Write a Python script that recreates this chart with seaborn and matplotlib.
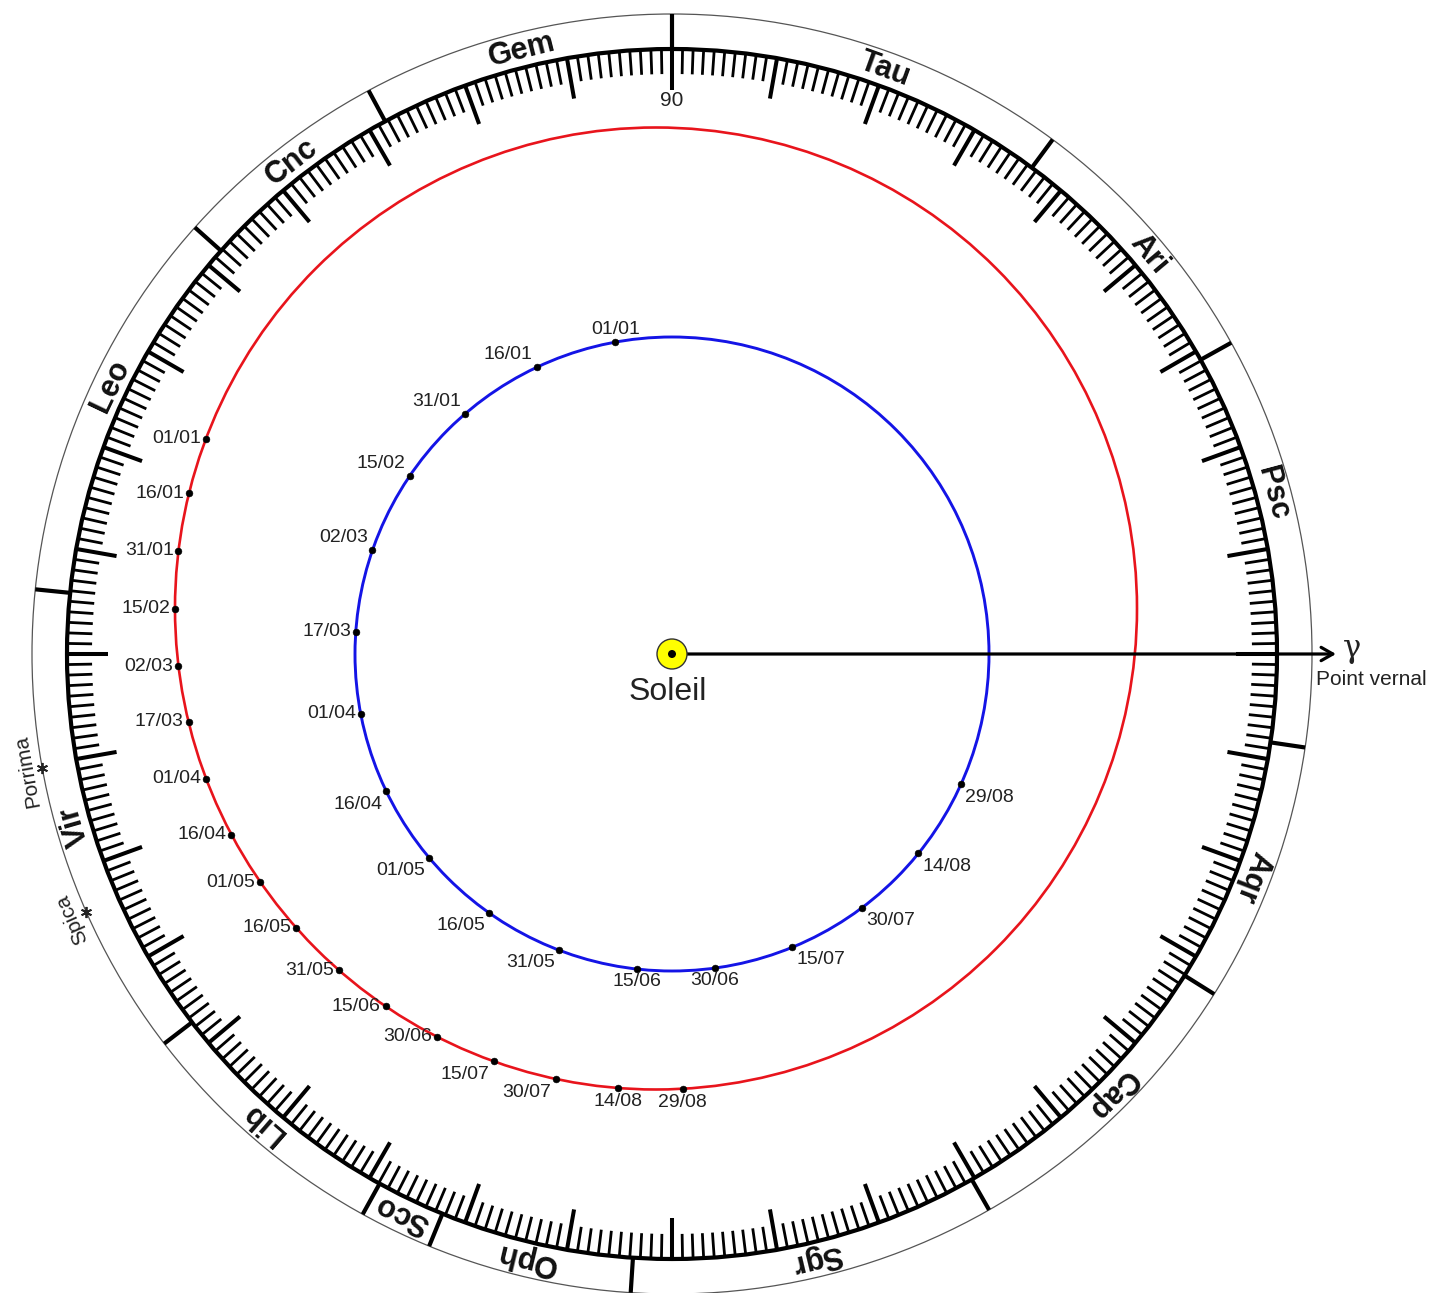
import numpy as np
import matplotlib
matplotlib.use("Agg")
import matplotlib.pyplot as plt
from matplotlib.collections import LineCollection
from matplotlib.patches import Circle
import seaborn as sns

# Dates of the marked positions (same dates on both orbits)
dates = ["01/01", "16/01", "31/01", "15/02", "02/03", "17/03", "01/04", "16/04",
         "01/05", "16/05", "31/05", "15/06", "30/06", "15/07", "30/07", "14/08", "29/08"]
# heliocentric longitudes (deg)
earth_lon = [100.3, 115.3, 130.7, 145.8, 160.9, 176.0, 190.9, 205.7,
             220.0, 234.8, 249.1, 263.6, 277.8, 292.3, 306.8, 321.0, 335.7]
mars_lon = [155.2, 161.6, 168.2, 174.8, 181.4, 188.0, 195.0, 202.3,
            209.0, 216.1, 223.5, 230.9, 238.5, 246.4, 254.7, 262.9, 271.4]

# zodiac constellations: boundaries on the ecliptic (deg) and label angle
constellations = ["Psc", "Ari", "Tau", "Gem", "Cnc", "Leo", "Vir",
                  "Lib", "Sco", "Oph", "Sgr", "Cap", "Aqr"]
boundaries = [29.1, 53.5, 90.0, 118.3, 138.2, 174.2, 217.5,
              241.1, 247.7, 266.3, 299.7, 327.9, 351.6]
label_angle = [15.0, 40.0, 70.0, 104.0, 127.7, 154.5, 196.0,
               229.0, 244.3, 256.5, 283.5, 315.0, 339.0]

stars = ["Porrima", "Spica"]
star_lon = [190.3, 203.8]

# geometry (pixels, sun at the origin)
R_EARTH = 317
R_MARS = 481
MARS_CENTER = (-16, 45.5)
R_SCALE = 605
R_OUTER = 640

sns.set_theme(style="white")
plt.rcParams['font.family'] = ['Liberation Sans', 'DejaVu Sans']

fig = plt.figure(figsize=(14.3, 12.93), dpi=100)
ax = fig.add_axes([0, 0, 1, 1])
ax.set_xlim(-672, 758)
ax.set_ylim(-639, 654)
ax.axis("off")


def polar(r, deg, c=(0, 0)):
    a = np.radians(deg)
    return c[0] + r * np.cos(a), c[1] + r * np.sin(a)


def on_mars_orbit(deg):
    # intersection of the ray from the sun with the (off-centre) Mars circle
    u = np.array([np.cos(np.radians(deg)), np.sin(np.radians(deg))])
    c = np.array(MARS_CENTER)
    uc = u @ c
    t = uc + np.sqrt(uc ** 2 - c @ c + R_MARS ** 2)
    return t * u


def align(c, s, hx, vy, gap):
    ha, dx = "center", 0
    va, dy = "center", 0
    if c < -hx:
        ha, dx = "right", -gap
    elif c > hx:
        ha, dx = "left", gap
    if s > vy:
        va, dy = "bottom", gap
    elif s < -vy:
        va, dy = "top", -gap
    return ha, va, dx, dy


# outer rings
ax.add_patch(Circle((0, 0), R_OUTER, fill=False, ec="#555555", lw=0.9))
ax.add_patch(Circle((0, 0), R_SCALE, fill=False, ec="black", lw=3.0))

# degree ticks
segs_small, segs_long = [], []
for d in range(360):
    if d % 10 == 0:
        segs_long.append([polar(R_SCALE, d), polar(564, d)])
    else:
        segs_small.append([polar(R_SCALE, d), polar(580, d)])
ax.add_collection(LineCollection(segs_small, colors="black", linewidths=2.0))
ax.add_collection(LineCollection(segs_long, colors="black", linewidths=2.9))

# constellation boundaries and names
segs_b = [[polar(R_SCALE, b), polar(R_OUTER, b)] for b in boundaries]
ax.add_collection(LineCollection(segs_b, colors="black", linewidths=3.0))
for name, a in zip(constellations, label_angle):
    x, y = polar(622, a)
    ax.text(x, y, name, fontsize=22, fontweight="bold", color="#111111",
            rotation=a - 90, rotation_mode="anchor", ha="center", va="center")

ax.text(0, 553, "90", fontsize=15, color="#222222", ha="center", va="center")

# stars
for name, a in zip(stars, star_lon):
    x, y = polar(R_OUTER, a)
    ax.plot(x, y, marker=(6, 2, 0), ms=8, mew=1.3, color="#222222")
    x, y = polar(646, a)
    ax.text(x, y, name, fontsize=15, color="#222222", rotation=a - 90,
            rotation_mode="anchor", ha="center", va="bottom")

# orbits
ax.add_patch(Circle(MARS_CENTER, R_MARS, fill=False, ec="#e8141c", lw=1.9))
ax.add_patch(Circle((0, 0), R_EARTH, fill=False, ec="#1414e6", lw=2.1))

ex = [polar(R_EARTH, a)[0] for a in earth_lon]
ey = [polar(R_EARTH, a)[1] for a in earth_lon]
mpts = [on_mars_orbit(a) for a in mars_lon]
mx = [p[0] for p in mpts]
my = [p[1] for p in mpts]

sns.scatterplot(x=ex, y=ey, color="black", s=24, edgecolor=None, ax=ax, zorder=5)
sns.scatterplot(x=mx, y=my, color="black", s=24, edgecolor=None, ax=ax, zorder=5)

for d, a, x, y in zip(dates, earth_lon, ex, ey):
    ha, va, dx, dy = align(np.cos(np.radians(a)), np.sin(np.radians(a)), 0.3, 0.3, 3)
    ax.annotate(d, (x, y), xytext=(dx, dy), textcoords="offset points",
                ha=ha, va=va, fontsize=14, color="#222222")

for d, x, y in zip(dates, mx, my):
    a = np.arctan2(y - MARS_CENTER[1], x - MARS_CENTER[0])
    ha, va, dx, dy = align(np.cos(a), np.sin(a), 0.15, 0.92, 3.5)
    ax.annotate(d, (x, y), xytext=(dx, dy), textcoords="offset points",
                ha=ha, va=va, fontsize=14, color="#222222")

# vernal point direction
ax.annotate("", xy=(664, 0), xytext=(15, 0),
            arrowprops=dict(arrowstyle="->,head_length=0.7,head_width=0.4",
                            lw=2.3, color="black", shrinkA=0, shrinkB=0))
ax.text(680, 5, "γ", fontsize=22, family=["DejaVu Serif"], color="#222222",
        ha="center", va="center")
ax.text(699, -26, "Point vernal", fontsize=15, color="#222222", ha="center", va="center")

# sun
ax.add_patch(Circle((0, 0), 15, fc="#ffff00", ec="#333333", lw=1, zorder=6))
ax.add_patch(Circle((0, 0), 4, fc="black", ec="none", zorder=7))
ax.text(-4, -38, "Soleil", fontsize=23, color="#222222", ha="center", va="center")

fig.savefig("out.png", dpi=100)
